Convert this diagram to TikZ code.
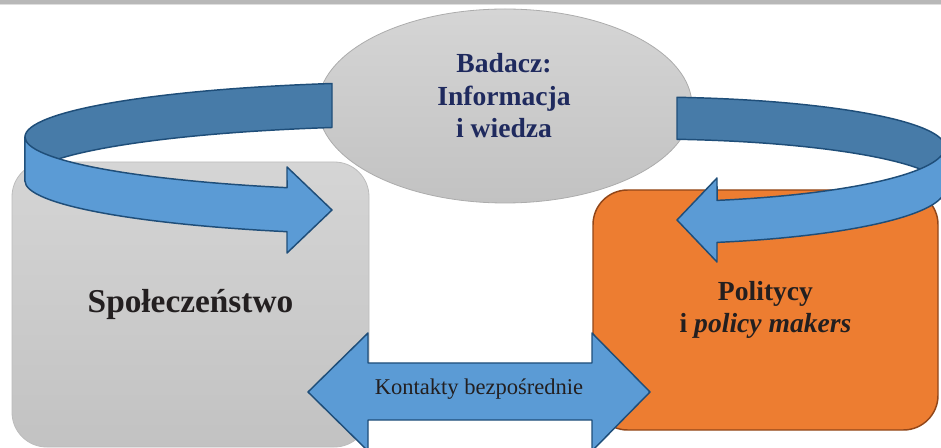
\documentclass[tikz,border=0pt]{standalone}
\usepackage{fontspec}
\setmainfont{Liberation Serif}
\usepackage{tikz}
\usetikzlibrary{shapes.geometric}
\definecolor{bargray}{RGB}{184, 184, 184}
\definecolor{barline}{RGB}{222, 222, 222}
\definecolor{boxtop}{RGB}{213, 213, 213}
\definecolor{boxbottom}{RGB}{194, 194, 194}
\definecolor{boxline}{RGB}{188, 188, 188}
\definecolor{ovalline}{RGB}{172, 172, 172}
\definecolor{polorange}{RGB}{237, 125, 49}
\definecolor{polline}{RGB}{145, 70, 25}
\definecolor{ribbonlight}{RGB}{91, 155, 213}
\definecolor{ribbondark}{RGB}{71, 123, 168}
\definecolor{ribbonline}{RGB}{31, 78, 121}
\definecolor{navytext}{RGB}{31, 42, 94}
\definecolor{darktext}{RGB}{35, 31, 32}

\begin{document}
\begin{tikzpicture}[
    x=0.75pt, y=-0.75pt,
    every node/.style={inner sep=0pt, align=center},
    box/.style={rounded corners=26pt, inner sep=0pt},
    ribbonback/.style={fill=ribbondark, draw=ribbonline, line width=1.1pt, line join=round},
    ribbonfront/.style={fill=ribbonlight, draw=ribbonline, line width=1.1pt, line join=round}
]
\useasboundingbox (0,0) rectangle (941,448);
\clip (0,0) rectangle (941,448);

% top bar
\fill[barline] (0,0) rectangle (941,5.5);
\fill[bargray] (0,0) rectangle (941,4);

% researcher oval
\node[ellipse, minimum width=280.5pt, minimum height=145.5pt, top color=boxtop, bottom color=boxbottom, draw=ovalline, line width=0.6pt] (res) at (505,106) {};
\node[font=\fontsize{20.7}{24.4}\selectfont\bfseries, text=navytext] (restext) at (504,96) {Badacz:\\Informacja\\i wiedza};

% society and politicians
\node[box, minimum width=267.75pt, minimum height=213.75pt, top color=boxtop, bottom color=boxbottom, draw=boxline, line width=0.6pt, font=\fontsize{25}{30}\selectfont\bfseries, text=darktext] (soc) at (190.5,304.5) {Społeczeństwo};
\node[box, minimum width=258.75pt, minimum height=180pt, fill=polorange, draw=polline, line width=1.1pt, font=\fontsize{20.7}{24}\selectfont\bfseries, text=darktext] (pol) at (765.5,310) {Politycy\\i \textit{policy makers}};

% left ribbon: oval -> society
\path[ribbonback] (332,83.5) arc[start angle=256.56, end angle=180, x radius=400, y radius=55]
    -- ++(0,44) arc[start angle=180, end angle=256.56, x radius=400, y radius=55] -- cycle;
\path[ribbonfront] (25,137) arc[start angle=180, end angle=110.18, x radius=400, y radius=54]
    -- (287,167) -- (332,210) -- (287,253) -- (287,231.7)
    arc[start angle=110.18, end angle=180, x radius=400, y radius=54] -- cycle;

% right ribbon: oval -> politicians
\path[ribbonback] (677,97.3) arc[start angle=276.12, end angle=360, x radius=300, y radius=50]
    -- ++(0,42) arc[start angle=360, end angle=276.12, x radius=300, y radius=50] -- cycle;
\path[ribbonfront] (945,147) arc[start angle=0, end angle=76.11, x radius=300, y radius=55]
    -- (717,178) -- (677,220) -- (717,262) -- (717,242.4)
    arc[start angle=76.11, end angle=0, x radius=300, y radius=55] -- cycle;

% direct contacts
\path[ribbonfront] (308,392) -- (368,333) -- (368,363) -- (592,363) -- (592,333) -- (650,392)
    -- (592,451) -- (592,420) -- (368,420) -- (368,451) -- cycle;
\node[font=\fontsize{16.9}{20}\selectfont, text=darktext] (contact) at (479,389) {Kontakty bezpośrednie};
\end{tikzpicture}
\end{document}
